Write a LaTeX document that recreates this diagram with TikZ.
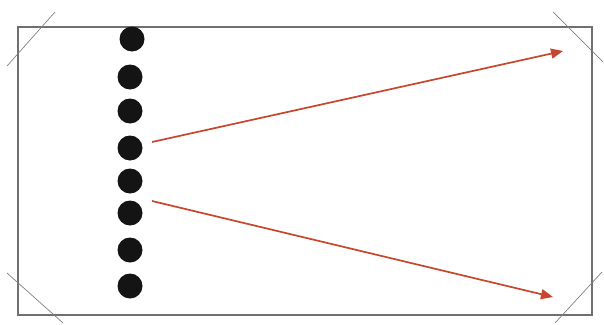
\documentclass[tikz,border=0pt]{standalone}
\usepackage{tikz}
\usetikzlibrary{arrows.meta}

\definecolor{arrowred}{RGB}{200,70,45}
\definecolor{framegray}{RGB}{112,112,112}

\begin{document}
\begin{tikzpicture}[x=1pt,y=-1pt,
    dot/.style={circle, fill=black!92, inner sep=0pt, minimum size=25pt},
    ray/.style={draw=arrowred, line width=1.7pt, -{Triangle[length=12pt,width=10pt]}}]
    \useasboundingbox (0,0) rectangle (604,324);
    % frame and corner marks
    \draw[framegray, line width=1.4pt] (18,27) rectangle (592,315);
    \draw[gray, line width=0.7pt] (7,66) -- (55,12);
    \draw[gray, line width=0.7pt] (553,12) -- (603,62);
    \draw[gray, line width=0.7pt] (7,273) -- (63,323);
    \draw[gray, line width=0.7pt] (602,272) -- (555,323);
    % column of dots
    \node[dot] (d1) at (132,39) {};
    \foreach \n/\y in {2/77,3/111,4/148,5/181,6/213,7/250,8/286}
        \node[dot] (d\n) at (130,\y) {};
    % rays
    \coordinate (S1) at (152,142);
    \coordinate (S2) at (152,201);
    \coordinate (T1) at (563,51);
    \coordinate (T2) at (553,297);
    \draw[ray] (S1) -- (T1);
    \draw[ray] (S2) -- (T2);
\end{tikzpicture}
\end{document}
